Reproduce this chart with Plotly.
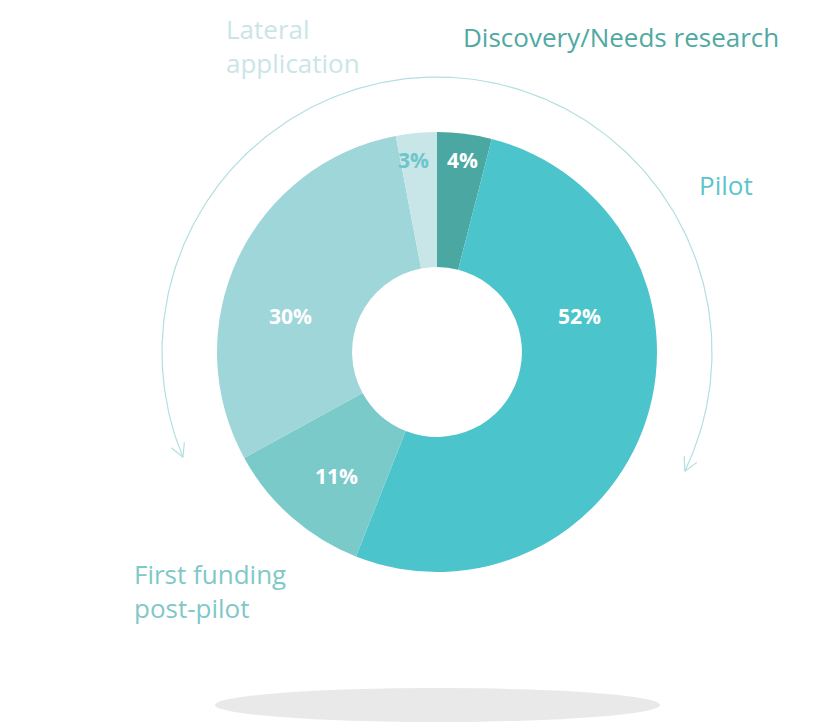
import numpy as np
import plotly.graph_objects as go

# Stages of the project pipeline (share of projects, %)
stages = ["Discovery/Needs research", "Pilot", "First funding post-pilot",
          "Expand existing program", "Lateral application"]
shares = [4, 52, 11, 30, 3]
colors = ["#4aa7a1", "#4cc4cb", "#7acaca", "#9fd6d9", "#c8e5e7"]

W, H = 814, 722
OFF = 8  # page body margin
cx, cy, R = 437, 352, 220
FONT = "Open Sans"

fig = go.Figure()

# donut (domain in paper coords, corrected for the page offset)
fig.add_trace(go.Pie(
    labels=stages, values=shares, sort=False, direction="clockwise", rotation=0,
    hole=0.386, marker=dict(colors=colors, line=dict(width=0)),
    textinfo="none", showlegend=False,
    domain=dict(x=[(cx - R - OFF) / W, (cx + R - OFF) / W],
                y=[1 - (cy + R - OFF) / H, 1 - (cy - R - OFF) / H]),
))

# arrow arc around the donut (decoration)
ra = 275
th = np.radians(np.linspace(-112.5, 115.7, 300))
fig.add_trace(go.Scatter(x=cx + ra * np.sin(th), y=cy - ra * np.cos(th), mode="lines",
                         line=dict(color="#b3dfe1", width=1.2), hoverinfo="skip", showlegend=False))


def arrow_head(theta_deg, sign):
    t = np.radians(theta_deg)
    tip = np.array([cx + ra * np.sin(t), cy - ra * np.cos(t)])
    d = sign * np.array([np.cos(t), np.sin(t)])
    xs, ys = [], []
    for a in (np.radians(28), np.radians(-28)):
        rot = np.array([[np.cos(a), -np.sin(a)], [np.sin(a), np.cos(a)]])
        p = tip - 15 * rot @ d
        xs += [tip[0], p[0], None]
        ys += [tip[1], p[1], None]
    fig.add_trace(go.Scatter(x=xs, y=ys, mode="lines", line=dict(color="#b3dfe1", width=1.2),
                             hoverinfo="skip", showlegend=False))


arrow_head(115.7, 1)
arrow_head(-112.5, -1)

# soft shadow below
fig.add_shape(type="circle", xref="x", yref="y", x0=215, x1=660, y0=688, y1=722,
              fillcolor="#e9e9e9", line=dict(width=0), layer="below")

# category labels
labels = [
    ("Discovery/Needs research", 461, 37, "middle", "#4fa9a2"),
    ("Pilot", 697, 185, "middle", "#5cc5cb"),
    ("First funding<br>post-pilot", 132, 591, "middle", "#7fc8c8"),
    ("Expand<br>existing<br>program", 7, 268, "middle", "#a3d8da"),
    ("Lateral<br>application", 224, OFF + 0.5, "top", "#cbe5e7"),
]
for txt, x, y, ya, c in labels:
    fig.add_annotation(x=x, y=y, xref="x", yref="y", text=txt, showarrow=False,
                       xanchor="left", yanchor=ya, align="left",
                       font=dict(family=FONT, size=26, color=c))

# percentage labels
pct_pos = [(462, 160), (579, 316), (336, 476), (290, 316), (413, 160)]
for i, (v, (x, y)) in enumerate(zip(shares, pct_pos)):
    fig.add_annotation(x=x, y=y, xref="x", yref="y", text=f"<b>{v}%</b>", showarrow=False,
                       font=dict(family=FONT, size=21, color="#6cc6cb" if i == 4 else "white"))

# axes mapped to page pixels
fig.update_xaxes(range=[OFF, W + OFF], visible=False, fixedrange=True)
fig.update_yaxes(range=[H + OFF, OFF], visible=False, fixedrange=True)
fig.update_layout(width=W, height=H, margin=dict(l=0, r=0, t=0, b=0),
                  paper_bgcolor="white", plot_bgcolor="white")

fig.write_html("out.html")
